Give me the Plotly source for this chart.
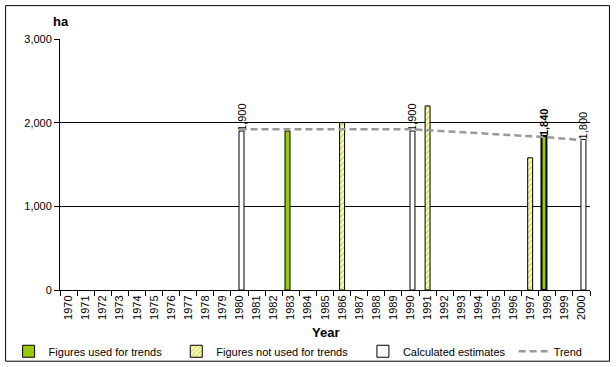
import plotly.graph_objects as go

years = [str(y) for y in range(1970, 2001)]

# Figures used for trends (green)
used_years = ["1983", "1998"]
used_vals = [1900, 1840]

# Figures not used for trends (hatched)
notused_years = ["1986", "1991", "1997"]
notused_vals = [2000, 2200, 1580]

# Calculated estimates (white)
calc_years = ["1980", "1990", "2000"]
calc_vals = [1900, 1900, 1800]

# Trend line
trend_years = ["1980", "1990", "1998", "2000"]
trend_vals = [1922, 1922, 1826, 1792]

FONT = "Arial, Liberation Sans, sans-serif"
BW = 0.29
PX0, PW = 59.5, 531.0   # plot area left / width in px
PY0, PH = 290.5, 252.0  # plot area bottom / height in px


def px_x(px):
    return (px - PX0) / PW


def px_y(py):
    return (PY0 - py) / PH


fig = go.Figure()

fig.add_trace(go.Bar(
    name="Figures used for trends", x=used_years, y=used_vals,
    marker=dict(color="#99CC00", line=dict(color="black", width=[1, 2])),
    width=BW, offset=-3.3 / 17.13 - BW / 2,
    text=["", f"<b>{used_vals[1]:,}</b>"], textposition="outside",
    textangle=-90, constraintext="none", cliponaxis=False,
    textfont=dict(family=FONT, size=11, color="black"),
    legend="legend",
))
fig.add_trace(go.Bar(
    name="Figures not used for trends", x=notused_years, y=notused_vals,
    marker=dict(color="#FFFFCC", line=dict(color="black", width=1),
                pattern=dict(shape="/", fgcolor="#A8C000", bgcolor="#FFFFCC",
                             size=4, solidity=0.45)),
    width=BW, offset=-BW / 2,
    legend="legend2",
))
fig.add_trace(go.Bar(
    name="Calculated estimates", x=calc_years, y=calc_vals,
    marker=dict(color="white", line=dict(color="black", width=1)),
    width=BW, offset=2.0 / 17.13 - BW / 2,
    text=[f"{v:,}" for v in calc_vals], textposition="outside",
    textangle=-90, constraintext="none", cliponaxis=False,
    textfont=dict(family=FONT, size=11, color="black"),
    legend="legend3",
))
fig.add_trace(go.Scatter(
    name="Trend", x=trend_years, y=trend_vals, mode="lines",
    line=dict(color="#999999", width=2.5, dash="7px,4px"),
    legend="legend4",
))

leg_common = dict(orientation="h", yanchor="middle", xanchor="left", y=px_y(352),
                  font=dict(family=FONT, size=11, color="black"),
                  bgcolor="rgba(0,0,0,0)", borderwidth=0)

fig.update_layout(
    width=616, height=367,
    margin=dict(l=59.5, r=25.5, t=38.5, b=76.5, autoexpand=False),
    paper_bgcolor="white", plot_bgcolor="white",
    barmode="overlay",
    font=dict(family=FONT, size=11, color="black"),
    showlegend=True,
    legend=dict(x=px_x(8), **leg_common),
    legend2=dict(x=px_x(176), **leg_common),
    legend3=dict(x=px_x(363), **leg_common),
    legend4=dict(x=px_x(514), **leg_common),
    xaxis=dict(type="category", categoryorder="array", categoryarray=years,
               range=[-0.5, len(years) - 0.5], automargin=False,
               tickangle=-90, ticks="outside", ticklen=5, tickcolor="black",
               tickson="boundaries", showline=True, linecolor="black", linewidth=1,
               showgrid=False, tickfont=dict(family=FONT, size=11)),
    yaxis=dict(range=[0, 3000], dtick=1000, tickformat=",", ticks="outside",
               ticklen=5, tickcolor="black", showline=True, linecolor="black",
               linewidth=1, showgrid=True, gridcolor="black", gridwidth=1,
               zeroline=False, automargin=False, tickfont=dict(family=FONT, size=11)),
    annotations=[
        dict(text="<b>ha</b>", x=px_x(61), y=px_y(20.5), xref="paper", yref="paper",
             xanchor="center", yanchor="middle", showarrow=False,
             font=dict(family=FONT, size=13, color="black")),
        dict(text="<b>Year</b>", x=0.5, y=px_y(333), xref="paper", yref="paper",
             xanchor="center", yanchor="middle", showarrow=False,
             font=dict(family=FONT, size=13, color="black")),
    ],
    shapes=[dict(type="rect", xref="paper", yref="paper",
                 x0=px_x(5), x1=px_x(610), y0=px_y(362), y1=px_y(5),
                 line=dict(color="black", width=1), fillcolor="rgba(0,0,0,0)",
                 layer="below")],
)

fig.write_html("out.html", config={"displayModeBar": False},
               post_script="document.body.style.margin='0';")
